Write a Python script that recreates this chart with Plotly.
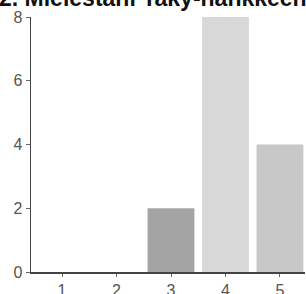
import plotly.graph_objects as go

categories = [1, 2, 3, 4, 5]
counts = [0, 0, 2, 8, 4]
bar_colors = ["#b0b0b0", "#b0b0b0", "#a4a4a4", "#d8d8d8", "#c8c8c8"]
title_text = "2. Mielestäni Taky-hankkeen"
y_ticks = [0, 2, 4, 6, 8]

fig = go.Figure(go.Bar(
    x=categories, y=counts,
    marker=dict(color=bar_colors, line=dict(width=0)),
    width=0.86,
    hoverinfo="skip",
))

fig.update_layout(
    width=306, height=294,
    margin=dict(l=31, r=1, t=17, b=22, autoexpand=False),
    paper_bgcolor="white", plot_bgcolor="white",
    showlegend=False,
    font=dict(family="Liberation Sans, Arial", size=16, color="#555"),
)
fig.add_annotation(
    text="<b>" + title_text + "</b>", xref="paper", yref="paper",
    x=0, y=1, xanchor="left", yanchor="bottom", xshift=-34, yshift=4,
    showarrow=False, font=dict(family="Liberation Sans, Arial", size=23, color="#111"),
)

fig.update_xaxes(
    range=[0.43, 5.46], tickvals=categories, ticktext=[str(c) for c in categories],
    showline=True, linecolor="#444", linewidth=1.5, automargin=False,
    ticks="outside", ticklen=3, tickcolor="#666", showgrid=False, zeroline=False,
    fixedrange=True,
)
fig.update_yaxes(
    range=[0, 8], tickvals=y_ticks, automargin=False,
    showline=True, linecolor="#444", linewidth=1.5,
    ticks="outside", ticklen=4, tickcolor="#666", showgrid=False, zeroline=False,
    fixedrange=True,
)

fig.write_html(
    "out.html",
    config={"displayModeBar": False, "staticPlot": True},
    post_script="document.body.style.margin='0';document.body.style.overflow='hidden';",
)
